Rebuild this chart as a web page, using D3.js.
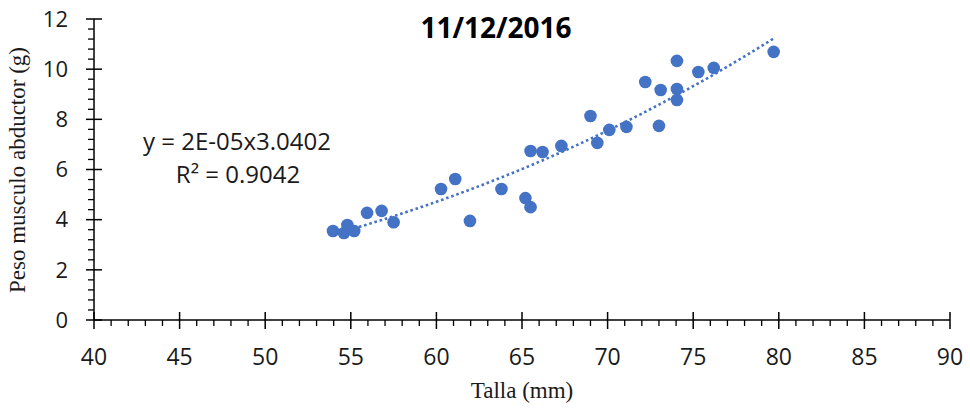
<!DOCTYPE html>
<html>
<head>
<meta charset="utf-8">
<script src="https://cdn.jsdelivr.net/npm/d3@7"></script>
<style>
  html, body { margin: 0; padding: 0; background: #fff; }
  svg { display: block; }
</style>
</head>
<body>
<svg id="chart" width="970" height="409"></svg>
<script>
// ---- data ----
const talla = [53.96, 54.6, 54.8, 55.2, 55.95, 56.8, 57.5, 60.27, 61.1, 61.96,
               63.8, 65.2, 65.5, 65.5, 66.2, 67.3, 69.0, 69.4, 70.1, 71.1,
               72.2, 73.1, 73.0, 74.05, 74.05, 74.05, 75.3, 76.2, 79.7];
const peso  = [3.55, 3.47, 3.79, 3.55, 4.27, 4.35, 3.90, 5.22, 5.62, 3.95,
               5.22, 4.86, 4.50, 6.74, 6.70, 6.94, 8.13, 7.06, 7.58, 7.70,
               9.49, 9.17, 7.74, 10.33, 9.21, 8.77, 9.89, 10.05, 10.69];
const xTicks = [40, 45, 50, 55, 60, 65, 70, 75, 80, 85, 90];
const yTicks = [0, 2, 4, 6, 8, 10, 12];
const titleText = "11/12/2016";
const xTitle = "Talla (mm)";
const yTitle = "Peso musculo abductor (g)";
const eqText = "y = 2E-05x3.0402";
const r2Text = "R² = 0.9042";

// ---- layout ----
const svg = d3.select("#chart");
const x = d3.scaleLinear().domain([40, 90]).range([94, 950]);
const y = d3.scaleLinear().domain([0, 12]).range([320, 19]);
const blue = "#4472C4";
const sans = "'Open Sans', 'Noto Sans', sans-serif";
const serif = "'Liberation Serif', 'DejaVu Serif', serif";

// power fit (log-log least squares)
const lx = talla.map(Math.log), ly = peso.map(Math.log);
const mx = d3.mean(lx), my = d3.mean(ly);
const b = d3.sum(lx.map((v, i) => (v - mx) * (ly[i] - my))) / d3.sum(lx.map(v => (v - mx) ** 2));
const a = Math.exp(my - b * mx);
const [xmin, xmax] = d3.extent(talla);
const trend = d3.range(0, 101).map(i => {
  const xv = xmin + (xmax - xmin) * i / 100;
  return [xv, a * Math.pow(xv, b)];
});

// ---- axes ----
const axisColor = "#000";
// x axis
const gx = svg.append("g");
gx.append("line").attr("x1", x(40)).attr("x2", x(90)).attr("y1", y(0)).attr("y2", y(0))
  .attr("stroke", axisColor).attr("stroke-width", 1.5);
const xMinor = d3.range(41, 90, 1).filter(v => v % 5 !== 0);
gx.selectAll(".xminor").data(xMinor).join("line")
  .attr("x1", d => x(d)).attr("x2", d => x(d)).attr("y1", y(0)).attr("y2", y(0) + 6)
  .attr("stroke", axisColor).attr("stroke-width", 1.3);
gx.selectAll(".xmajor").data(xTicks).join("line")
  .attr("x1", d => x(d)).attr("x2", d => x(d)).attr("y1", y(0) - 8).attr("y2", y(0) + 9)
  .attr("stroke", axisColor).attr("stroke-width", 1.5);
gx.selectAll(".xlab").data(xTicks).join("text")
  .attr("x", d => x(d)).attr("y", 365).attr("text-anchor", "middle")
  .attr("font-family", sans).attr("font-size", 23).attr("fill", "#1a1a1a")
  .text(d => d);

// y axis
const gy = svg.append("g");
gy.append("line").attr("x1", x(40)).attr("x2", x(40)).attr("y1", y(0)).attr("y2", y(12))
  .attr("stroke", axisColor).attr("stroke-width", 1.5);
const yMinor = d3.range(1, 30).map(i => i * 0.4).filter(v => Math.abs(v / 2 - Math.round(v / 2)) > 1e-6 && v < 12);
gy.selectAll(".yminor").data(yMinor).join("line")
  .attr("x1", x(40) - 6).attr("x2", x(40)).attr("y1", d => y(d)).attr("y2", d => y(d))
  .attr("stroke", axisColor).attr("stroke-width", 1.3);
gy.selectAll(".ymajor").data(yTicks).join("line")
  .attr("x1", x(40) - 8).attr("x2", x(40) + 8).attr("y1", d => y(d)).attr("y2", d => y(d))
  .attr("stroke", axisColor).attr("stroke-width", 1.5);
gy.selectAll(".ylab").data(yTicks).join("text")
  .attr("x", 68).attr("y", d => y(d)).attr("dy", "0.35em").attr("text-anchor", "end")
  .attr("font-family", sans).attr("font-size", 22).attr("fill", "#1a1a1a")
  .text(d => d);

// ---- trend line ----
svg.append("path").datum(trend)
  .attr("d", d3.line().x(d => x(d[0])).y(d => y(d[1])))
  .attr("fill", "none").attr("stroke", blue).attr("stroke-width", 2.6)
  .attr("stroke-dasharray", "2.6,2.8");

// ---- points ----
svg.selectAll(".pt").data(talla).join("circle")
  .attr("cx", d => x(d)).attr("cy", (d, i) => y(peso[i])).attr("r", 6.3)
  .attr("fill", blue);

// ---- texts ----
svg.append("text").attr("x", 496).attr("y", 38).attr("text-anchor", "middle")
  .attr("font-family", sans).attr("font-weight", "bold").attr("font-size", 28)
  .attr("fill", "#000").text(titleText);
svg.append("text").attr("x", 522).attr("y", 398).attr("text-anchor", "middle")
  .attr("font-family", serif).attr("font-size", 23).attr("fill", "#1a1a1a").text(xTitle);
svg.append("text").attr("transform", "translate(25,170) rotate(-90)").attr("text-anchor", "middle")
  .attr("font-family", serif).attr("font-size", 23).attr("fill", "#1a1a1a").text(yTitle);
svg.append("text").attr("x", 237).attr("y", 150).attr("text-anchor", "middle")
  .attr("font-family", sans).attr("font-size", 24).attr("fill", "#1a1a1a").text(eqText);
svg.append("text").attr("x", 238).attr("y", 183).attr("text-anchor", "middle")
  .attr("font-family", sans).attr("font-size", 24).attr("fill", "#1a1a1a").text(r2Text);
</script>
</body>
</html>
